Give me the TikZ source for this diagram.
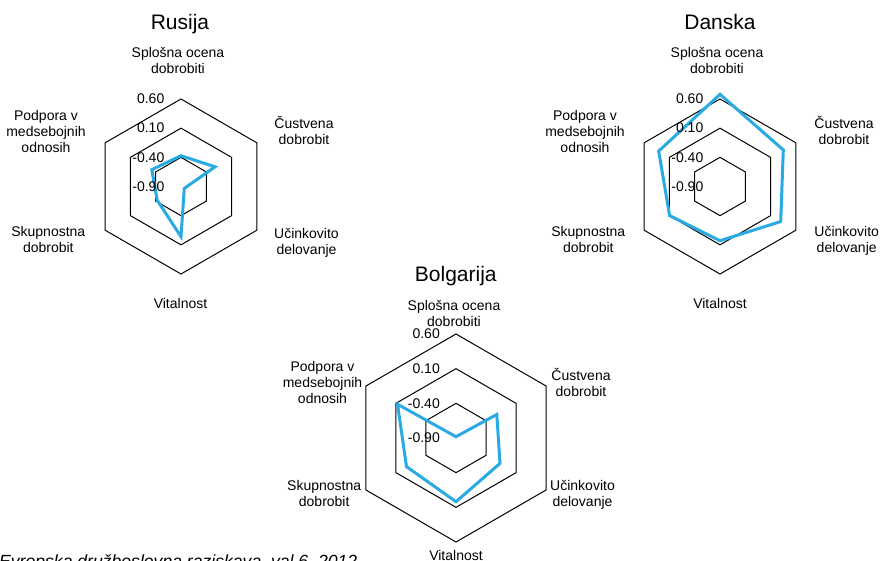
\documentclass[tikz,border=0pt]{standalone}
\usepackage{fontspec}
\setmainfont{Liberation Sans}
\definecolor{databl}{RGB}{41,170,226}
\tikzset{
  hexgrid/.style={draw=black, line width=1pt, line join=miter},
  datapoly/.style={draw=databl, line width=3pt, line join=miter},
  axlabel/.style={align=center, anchor=base, inner sep=0pt, font=\fontsize{14}{16}\selectfont},
  scalelabel/.style={anchor=east, inner sep=0pt, font=\fontsize{14}{16}\selectfont},
  charttitle/.style={anchor=base, inner sep=0pt, font=\fontsize{21}{24}\selectfont},
  footnote/.style={anchor=base west, inner sep=0pt, font=\fontsize{17.6}{20}\selectfont\itshape},
}
\begin{document}
\begin{tikzpicture}[x=1pt,y=-1pt]
\useasboundingbox (0,0) rectangle (881,560);

% ---------------- Rusija ----------------
\begin{scope}[shift={(181,186.5)}]
  \foreach \r in {87.5,58.33,29.17}
    \draw[hexgrid] (-90:\r) -- (-30:\r) -- (30:\r) -- (90:\r) -- (150:\r) -- (210:\r) -- cycle;
  \draw[datapoly] (-90:30.8) -- (-30:39.3) -- (30:3.8) -- (90:50.2) -- (150:27.5) -- (210:33.7) -- cycle;
  \node[scalelabel] (ru-s1) at (-16.5,-87.5) {0.60};
  \node[scalelabel] (ru-s2) at (-16.5,-58.33) {0.10};
  \node[scalelabel] (ru-s3) at (-16.5,-29.17) {-0.40};
  \node[scalelabel] (ru-s4) at (-16.5,0) {-0.90};
\end{scope}
\node[charttitle] (ru-title) at (180,29.5) {Rusija};
\node[axlabel] (ru-a1) at (178,73.3) {Splošna ocena\\dobrobiti};
\node[axlabel] (ru-a2) at (304,144) {Čustvena\\dobrobit};
\node[axlabel] (ru-a3) at (306.5,254) {Učinkovito\\delovanje};
\node[axlabel] (ru-a4) at (180.5,308.3) {Vitalnost};
\node[axlabel] (ru-a5) at (48.3,252.7) {Skupnostna\\dobrobit};
\node[axlabel] (ru-a6) at (46,152) {Podpora v\\medsebojnih\\odnosih};

% ---------------- Danska ----------------
\begin{scope}[shift={(720,186.5)}]
  \foreach \r in {87.5,58.33,29.17}
    \draw[hexgrid] (-90:\r) -- (-30:\r) -- (30:\r) -- (90:\r) -- (150:\r) -- (210:\r) -- cycle;
  \draw[datapoly] (-90:92.2) -- (-30:73.1) -- (30:70.1) -- (90:54.2) -- (150:58.2) -- (210:70.8) -- cycle;
  \node[scalelabel] (da-s1) at (-16.5,-87.5) {0.60};
  \node[scalelabel] (da-s2) at (-16.5,-58.33) {0.10};
  \node[scalelabel] (da-s3) at (-16.5,-29.17) {-0.40};
  \node[scalelabel] (da-s4) at (-16.5,0) {-0.90};
\end{scope}
\node[charttitle] (da-title) at (720,29.3) {Danska};
\node[axlabel] (da-a1) at (717,73.3) {Splošna ocena\\dobrobiti};
\node[axlabel] (da-a2) at (844,144.3) {Čustvena\\dobrobit};
\node[axlabel] (da-a3) at (846.7,252.7) {Učinkovito\\delovanje};
\node[axlabel] (da-a4) at (720,308.3) {Vitalnost};
\node[axlabel] (da-a5) at (588.3,252.7) {Skupnostna\\dobrobit};
\node[axlabel] (da-a6) at (585,152) {Podpora v\\medsebojnih\\odnosih};

% ---------------- Bolgarija ----------------
\begin{scope}[shift={(456,438)}]
  \foreach \r in {104,69.33,34.67}
    \draw[hexgrid] (-90:\r) -- (-30:\r) -- (30:\r) -- (90:\r) -- (150:\r) -- (210:\r) -- cycle;
  \draw[datapoly] (-90:1.3) -- (-30:47.1) -- (30:50.8) -- (90:63.7) -- (150:57.2) -- (210:67.5) -- cycle;
  \node[scalelabel] (bg-s1) at (-16,-104) {0.60};
  \node[scalelabel] (bg-s2) at (-16,-69.33) {0.10};
  \node[scalelabel] (bg-s3) at (-16,-34.67) {-0.40};
  \node[scalelabel] (bg-s4) at (-16,0) {-0.90};
\end{scope}
\node[charttitle] (bg-title) at (455.8,281) {Bolgarija};
\node[axlabel] (bg-a1) at (454,326) {Splošna ocena\\dobrobiti};
\node[axlabel] (bg-a2) at (581,396) {Čustvena\\dobrobit};
\node[axlabel] (bg-a3) at (582.5,506) {Učinkovito\\delovanje};
\node[axlabel] (bg-a4) at (456,560) {Vitalnost};
\node[axlabel] (bg-a5) at (324.2,506) {Skupnostna\\dobrobit};
\node[axlabel] (bg-a6) at (322.5,403.7) {Podpora v\\medsebojnih\\odnosih};

% ---------------- source ----------------
\node[footnote] (src) at (-1,567) {Evropska družboslovna raziskava, val 6, 2012};
\end{tikzpicture}
\end{document}
